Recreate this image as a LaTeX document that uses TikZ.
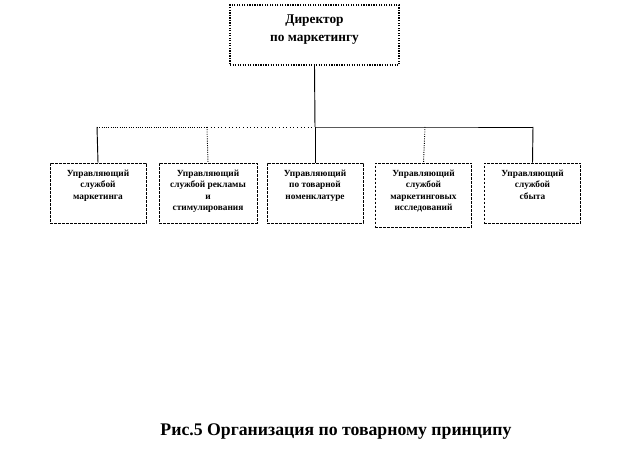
\documentclass[tikz,border=0pt]{standalone}
\usepackage{fontspec}
\setmainfont{Liberation Serif}

\begin{document}
\begin{tikzpicture}[x=0.75pt,y=-0.75pt,thick]
\tikzstyle{chief}=[rectangle,draw,densely dotted,line width=0.9pt,minimum width=126.75pt,inner xsep=2pt,inner ysep=4pt,font=\bfseries\fontsize{10}{13.5}\selectfont]
\tikzstyle{unit}=[rectangle,draw,dash pattern=on 2pt off 1pt,line width=0.6pt,inner xsep=1pt,inner ysep=3pt,font=\bfseries\fontsize{7}{8.6}\selectfont]
\tikzstyle{link}=[line width=0.7pt]
\newcommand{\tbox}[4]{\parbox[c][#1][t]{#2}{\vspace*{#3}\centering #4}}
\useasboundingbox (0,0) rectangle (636,473);
\node[chief] (dir) at (314.5,35) {\tbox{37pt}{122pt}{3pt}{Директор\\по маркетингу}};
\node[unit] (u1) at (98,193) {\tbox{39pt}{70pt}{2pt}{Управляющий\\службой\\маркетинга}};
\node[unit] (u2) at (208,193) {\tbox{39pt}{71.5pt}{2pt}{Управляющий\\службой рекламы\\и\\стимулирования}};
\node[unit] (u3) at (315,193) {\tbox{39pt}{70pt}{2pt}{Управляющий\\по товарной\\номенклатуре}};
\node[unit] (u4) at (423.5,195) {\tbox{42pt}{70.5pt}{2pt}{Управляющий\\службой\\маркетинговых\\исследований}};
\node[unit] (u5) at (532.5,193) {\tbox{39pt}{70.5pt}{2pt}{Управляющий\\службой\\сбыта}};
% bus line
\coordinate (b1) at (97,127);
\coordinate (b2) at (207,127);
\coordinate (b3) at (315,127);
\coordinate (b4) at (425,127);
\coordinate (b5) at (533,127);
\draw[link] (dir.south) -- (b3);
\draw[link,densely dotted] (b1) -- (b2);
\draw[link,dotted] (b2) -- (b3);
\draw[link] (b3) -- (b4) -- (b5);
\draw[link] (b1) -- (u1.north);
\draw[link,densely dotted] (b2) -- (u2.north);
\draw[link] (b3) -- (u3.north);
\draw[link,densely dotted] (b4) -- (u4.north);
\draw[link] (b5) -- (u5.north);
\node[font=\bfseries\fontsize{13.3}{15}\selectfont] (cap) at (336,432) {Рис.5 Организация по товарному принципу};
\end{tikzpicture}
\end{document}
